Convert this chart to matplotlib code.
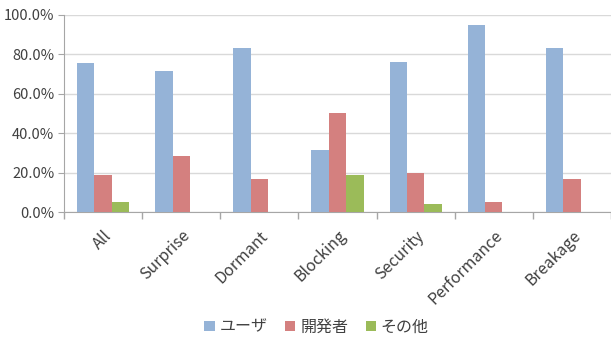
"""Grouped bar chart: share of reporters (user / developer / other) per issue category."""

import numpy as np
import matplotlib

matplotlib.use("Agg")
import matplotlib.pyplot as plt
from matplotlib.ticker import FuncFormatter, MultipleLocator

plt.rcParams["font.family"] = ["Noto Sans CJK JP", "DejaVu Sans"]

categories = ["All", "Surprise", "Dormant", "Blocking", "Security", "Performance", "Breakage"]
series_names = ["ユーザ", "開発者", "その他"]
user = [75.6, 71.4, 83.3, 31.25, 76.0, 95.0, 83.3]
developer = [19.0, 28.6, 16.7, 50.0, 20.0, 5.0, 16.7]
other = [4.9, 0.0, 0.0, 18.75, 4.0, 0.0, 0.0]

COLORS = ["#95b3d7", "#d4807f", "#9bbb59"]
GRID = "#d9d9d9"
AXIS = "#a6a6a6"
TEXT = "#404040"


def main() -> None:
    fig = plt.figure(figsize=(6.11, 3.42), dpi=100)
    ax = fig.add_axes([64 / 611, 1 - 212 / 342, 1 - 64 / 611, (212 - 15) / 342])

    x = np.arange(len(categories))
    width = 0.222
    for i, (values, name) in enumerate(zip([user, developer, other], series_names)):
        ax.bar(x + (i - 1) * width, values, width, color=COLORS[i], label=name, zorder=3)

    ax.set_xlim(-0.5, len(categories) - 0.5)
    ax.set_ylim(0, 100)
    ax.yaxis.set_major_locator(MultipleLocator(20))
    ax.yaxis.set_major_formatter(FuncFormatter(lambda v, _: f"{v:.1f}%"))
    ax.grid(axis="y", color=GRID, linewidth=1, zorder=0)

    ax.set_xticks(np.arange(len(categories) + 1) - 0.5, minor=False)
    ax.set_xticklabels([])
    ax.set_xticks(x, minor=True)
    ax.set_xticklabels(categories, minor=True, rotation=45, ha="right",
                       rotation_mode="anchor", fontsize=11.5, color=TEXT)
    ax.tick_params(axis="x", which="minor", length=0, pad=11)
    ax.tick_params(axis="x", which="major", length=5, color=AXIS, width=1)
    ax.tick_params(axis="y", length=4, color=AXIS, labelsize=10.5, labelcolor=TEXT, pad=3)

    for side in ("top", "right"):
        ax.spines[side].set_visible(False)
    for side in ("left", "bottom"):
        ax.spines[side].set_color(AXIS)

    fig.legend(loc="center", bbox_to_anchor=(0.518, 1 - 327 / 342), ncol=3, frameon=False,
               fontsize=11.5, handlelength=0.65, handleheight=0.65, handletextpad=0.3,
               columnspacing=1.1, labelcolor=TEXT)

    fig.savefig("out.png", dpi=100)
    plt.close(fig)


if __name__ == "__main__":
    main()
